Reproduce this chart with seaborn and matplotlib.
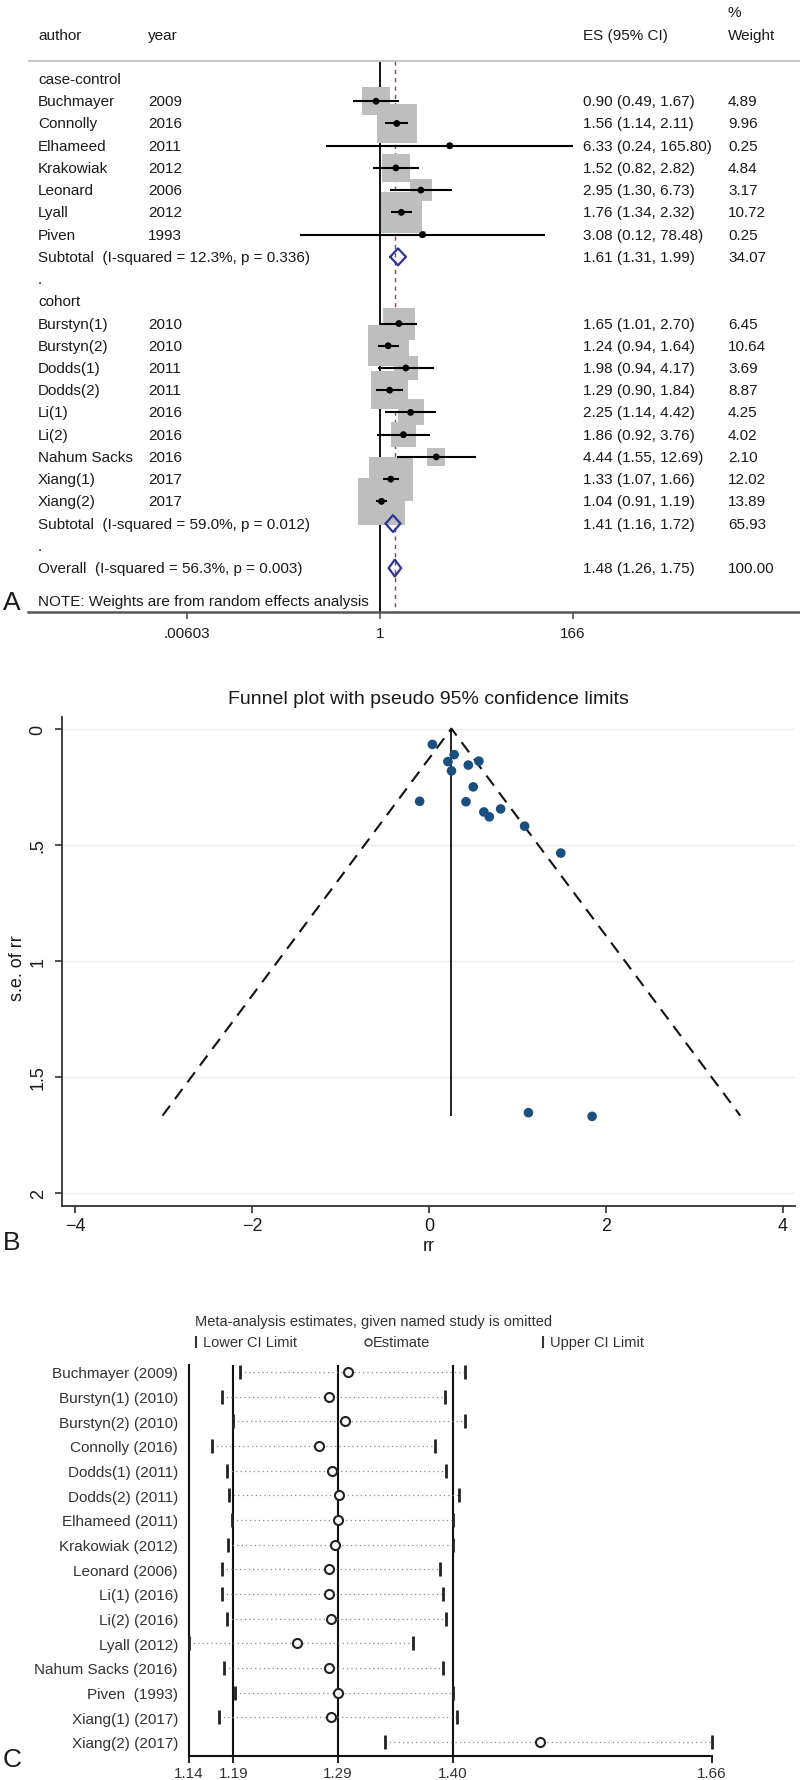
import numpy as np
import pandas as pd
import seaborn as sns
import matplotlib
matplotlib.use("Agg")
import matplotlib.pyplot as plt
import matplotlib.transforms as mtransforms
from matplotlib.ticker import NullLocator

sns.set_style("white")
plt.rcParams['font.family'] = ['Liberation Sans', 'DejaVu Sans']

# ---- panel A: forest plot data ----
authors = ['Buchmayer', 'Connolly', 'Elhameed', 'Krakowiak', 'Leonard', 'Lyall', 'Piven',
           'Burstyn(1)', 'Burstyn(2)', 'Dodds(1)', 'Dodds(2)', 'Li(1)', 'Li(2)',
           'Nahum Sacks', 'Xiang(1)', 'Xiang(2)']
years = [2009, 2016, 2011, 2012, 2006, 2012, 1993,
         2010, 2010, 2011, 2011, 2016, 2016, 2016, 2017, 2017]
design = ['case-control'] * 7 + ['cohort'] * 9
es = [0.90, 1.56, 6.33, 1.52, 2.95, 1.76, 3.08,
      1.65, 1.24, 1.98, 1.29, 2.25, 1.86, 4.44, 1.33, 1.04]
ci_lo = [0.49, 1.14, 0.24, 0.82, 1.30, 1.34, 0.12,
         1.01, 0.94, 0.94, 0.90, 1.14, 0.92, 1.55, 1.07, 0.91]
ci_hi = [1.67, 2.11, 165.80, 2.82, 6.73, 2.32, 78.48,
         2.70, 1.64, 4.17, 1.84, 4.42, 3.76, 12.69, 1.66, 1.19]
weight = [4.89, 9.96, 0.25, 4.84, 3.17, 10.72, 0.25,
          6.45, 10.64, 3.69, 8.87, 4.25, 4.02, 2.10, 12.02, 13.89]

groups = ['case-control', 'cohort']
sub_es = [1.61, 1.41]
sub_lo = [1.31, 1.16]
sub_hi = [1.99, 1.72]
sub_wt = [34.07, 65.93]
sub_i2 = ['12.3%', '59.0%']
sub_p = ['0.336', '0.012']
overall = (1.48, 1.26, 1.75, 100.00, '56.3%', '0.003')

# ---- panel B: funnel plot data (log rr, s.e.) ----
log_rr = [-0.105, 0.445, 1.845, 0.419, 1.082, 0.565, 1.125,
          0.501, 0.215, 0.683, 0.255, 0.811, 0.621, 1.491, 0.285, 0.039]
se_rr = [0.313, 0.157, 1.670, 0.315, 0.420, 0.140, 1.654,
         0.251, 0.142, 0.380, 0.182, 0.346, 0.359, 0.536, 0.112, 0.068]
fixed_logrr = 0.254
max_se = 1.667

# ---- panel C: influence analysis ----
omit_labels = ['Buchmayer (2009)', 'Burstyn(1) (2010)', 'Burstyn(2) (2010)', 'Connolly (2016)',
               'Dodds(1) (2011)', 'Dodds(2) (2011)', 'Elhameed (2011)', 'Krakowiak (2012)',
               'Leonard (2006)', 'Li(1) (2016)', 'Li(2) (2016)', 'Lyall (2012)',
               'Nahum Sacks (2016)', 'Piven  (1993)', 'Xiang(1) (2017)', 'Xiang(2) (2017)']
omit_lo = [1.191, 1.173, 1.184, 1.163, 1.178, 1.180, 1.183, 1.179,
           1.173, 1.173, 1.178, 1.140, 1.175, 1.186, 1.170, 1.335]
omit_est = [1.298, 1.279, 1.295, 1.269, 1.282, 1.289, 1.288, 1.285,
            1.279, 1.279, 1.281, 1.247, 1.279, 1.288, 1.281, 1.489]
omit_hi = [1.414, 1.395, 1.414, 1.385, 1.396, 1.408, 1.402, 1.402,
           1.390, 1.393, 1.396, 1.363, 1.393, 1.402, 1.406, 1.660]
ref_lines = [1.184, 1.288, 1.4025]
c_ticks = [1.14, 1.184, 1.288, 1.4025, 1.66]
c_ticklabels = ['1.14', '1.19', '1.29', '1.40', '1.66']

W, H = 800, 1781
fig = plt.figure(figsize=(W / 100, H / 100), dpi=100)
fig.patch.set_facecolor('white')


def rect(l, t, r, b):
    return [l / W, 1 - b / H, (r - l) / W, (b - t) / H]


def ftext(x, y, s, **kw):
    fig.text(x / W, 1 - y / H, s, **kw)


txtc = '#1a1a1a'

# =================== A ===================
axA = fig.add_axes(rect(28, 0, 800, 613))
axA.set_xscale('log')
tA = mtransforms.blended_transform_factory(fig.transFigure, axA.transData)


def atext(px, row, s, **kw):
    axA.text(px / W, row, s, transform=tA, va='center', ha='left',
             fontsize=11, color=txtc, **kw)


df = pd.DataFrame({'author': authors, 'year': years, 'design': design, 'es': es,
                   'lo': ci_lo, 'hi': ci_hi, 'w': weight})
row = 0
df['row'] = 0.0
sum_rows = []
for g in groups:
    atext(38, row, g)
    row += 1
    for i in df.index[df['design'] == g]:
        df.loc[i, 'row'] = row
        r = df.loc[i]
        atext(38, row, r['author'])
        atext(148, row, str(r['year']))
        atext(583, row, f"{r['es']:.2f} ({r['lo']:.2f}, {r['hi']:.2f})")
        atext(728, row, f"{r['w']:.2f}")
        row += 1
    sum_rows.append(row)
    row += 2
for k, g in enumerate(groups):
    r = sum_rows[k]
    atext(38, r, f"Subtotal  (I-squared = {sub_i2[k]}, p = {sub_p[k]})")
    atext(583, r, f"{sub_es[k]:.2f} ({sub_lo[k]:.2f}, {sub_hi[k]:.2f})")
    atext(728, r, f"{sub_wt[k]:.2f}")
    atext(38, r + 1, '.')
ov_row = row
atext(38, ov_row, f"Overall  (I-squared = {overall[4]}, p = {overall[5]})")
atext(583, ov_row, f"{overall[0]:.2f} ({overall[1]:.2f}, {overall[2]:.2f})")
atext(728, ov_row, f"{overall[3]:.2f}")
atext(38, ov_row + 1.5, 'NOTE: Weights are from random effects analysis')

atext(38, -1.98, 'author')
atext(148, -1.98, 'year')
atext(583, -1.98, 'ES (95% CI)')
atext(728, -3.0, '%')
atext(728, -1.98, 'Weight')

axA.axhline(-0.8, color='#c8c8c8', lw=1.5)
axA.vlines(1, -0.8, 23.98, colors='black', lw=1.3, zorder=1.5)
axA.vlines(overall[0], -0.8, 23.98, colors='#a8383a', lw=1.0,
           linestyles=(0, (3, 3)), zorder=1.6)
axA.scatter(df['es'], df['row'], s=82.4 * df['w'], marker='s', color='#bebebe',
            linewidths=0, zorder=2)
axA.hlines(df['row'], df['lo'], df['hi'], colors='black', lw=1.5, zorder=3)
sns.scatterplot(x=df['es'].values, y=df['row'].values, ax=axA, color='black', s=24,
                edgecolor='none', zorder=4, legend=False)
dmd_h = 0.38
for k in range(len(groups)):
    r = sum_rows[k]
    axA.plot([sub_lo[k], sub_es[k], sub_hi[k], sub_es[k], sub_lo[k]],
             [r, r - dmd_h, r, r + dmd_h, r], color='#2b3597', lw=1.6, zorder=5)
axA.plot([overall[1], overall[0], overall[2], overall[0], overall[1]],
         [ov_row, ov_row - dmd_h, ov_row, ov_row + dmd_h, ov_row],
         color='#2b3597', lw=1.6, zorder=5)

axA.set_xlim(10 ** ((28 - 380) / 86.93), 10 ** ((800 - 380) / 86.93))
axA.set_ylim(23.977, -3.599)
axA.set_xticks([0.00603, 1, 166])
axA.set_xticklabels(['.00603', '1', '166'])
axA.xaxis.set_minor_locator(NullLocator())
axA.set_yticks([])
for s in ['top', 'right', 'left']:
    axA.spines[s].set_visible(False)
axA.spines['bottom'].set_color('#555555')
axA.spines['bottom'].set_linewidth(1.8)
axA.tick_params(axis='x', direction='out', length=5, width=1.2, color='#555555',
                labelsize=11, labelcolor=txtc, pad=5, bottom=True)
axA.set_xlabel('')
axA.set_ylabel('')
axA.patch.set_alpha(0)
ftext(12, 603, 'A', fontsize=19, ha='center', va='center', color=txtc)

# =================== B ===================
axB = fig.add_axes(rect(62, 718, 795, 1207))
for yv in [0, 0.5, 1, 1.5, 2]:
    axB.axhline(yv, color='#e5edf2', lw=1.0, zorder=0)
axB.vlines(fixed_logrr, 0, max_se, colors='#111111', lw=1.3, zorder=2)
axB.plot([fixed_logrr - 1.96 * max_se, fixed_logrr, fixed_logrr + 1.96 * max_se],
         [max_se, 0, max_se], color='#111111', lw=1.5, dashes=(6, 4), zorder=2)
sns.scatterplot(x=log_rr, y=se_rr, ax=axB, color='#1b4f7f', s=48, edgecolor='none',
                zorder=3, legend=False)
axB.set_xlim(-4.15, 4.14)
axB.set_ylim(2.056, -0.05)
axB.set_xticks([-4, -2, 0, 2, 4])
axB.set_yticks([0, 0.5, 1, 1.5, 2])
axB.set_yticklabels(['0', '.5', '1', '1.5', '2'], rotation=90, va='center')
for s in ['top', 'right']:
    axB.spines[s].set_visible(False)
for s in ['left', 'bottom']:
    axB.spines[s].set_color('#333333')
    axB.spines[s].set_linewidth(1.3)
axB.tick_params(axis='both', direction='out', length=5, width=1.2, color='#333333',
                labelsize=13, labelcolor=txtc)
axB.tick_params(axis='y', pad=6, left=True)
axB.tick_params(axis='x', pad=3, bottom=True)
axB.set_xlabel('')
axB.set_ylabel('')
ftext(428, 700, 'Funnel plot with pseudo 95% confidence limits', fontsize=14,
      ha='center', va='center', color=txtc)
ftext(17, 968, 's.e. of rr', fontsize=13, rotation=90, ha='center', va='center', color=txtc)
ftext(429, 1247, 'rr', fontsize=13, ha='center', va='center', color=txtc)
ftext(12, 1243, 'B', fontsize=19, ha='center', va='center', color=txtc)

# =================== C ===================
axC = fig.add_axes(rect(189, 1366, 712, 1757))
rows_c = np.arange(len(omit_labels))
for xv in ref_lines:
    axC.axvline(xv, color='#111111', lw=1.5, zorder=1)
axC.hlines(rows_c, omit_lo, omit_hi, colors='#8a8a8a', lw=0.9,
           linestyles=(0, (1, 2.5)), zorder=2)
axC.plot(omit_lo, rows_c, ls='none', marker='|', ms=10, mew=2, color='#222222',
         zorder=3, clip_on=False)
axC.plot(omit_hi, rows_c, ls='none', marker='|', ms=10, mew=2, color='#222222',
         zorder=3, clip_on=False)
axC.plot(omit_est, rows_c, ls='none', marker='o', ms=6.5, mew=1.5, mfc='white',
         mec='#222222', zorder=4, clip_on=False)
axC.set_xlim(1.14, 1.66)
axC.set_ylim(15.57, -0.28)
axC.set_xticks(c_ticks)
axC.set_xticklabels(c_ticklabels)
axC.set_yticks(rows_c)
axC.set_yticklabels(omit_labels)
for s in ['top', 'right']:
    axC.spines[s].set_visible(False)
for s in ['left', 'bottom']:
    axC.spines[s].set_color('#111111')
    axC.spines[s].set_linewidth(1.5)
axC.tick_params(axis='x', direction='out', length=5, width=1.3, color='#111111',
                labelsize=11, labelcolor='#333333', pad=2, bottom=True)
axC.tick_params(axis='y', length=0, labelsize=11, labelcolor='#333333', pad=8)
ftext(195, 1322, 'Meta-analysis estimates, given named study is omitted', fontsize=10.5,
      ha='left', va='center', color='#333333')
axC.plot([196 / W], [1 - 1343 / H], transform=fig.transFigure, marker='|', ms=8, mew=1.5,
         color='#333333', clip_on=False)
ftext(203, 1343, 'Lower CI Limit', fontsize=10.5, ha='left', va='center', color='#333333')
axC.plot([368 / W], [1 - 1343 / H], transform=fig.transFigure, marker='o', ms=5, mew=1,
         mfc='white', mec='#333333', clip_on=False)
ftext(373, 1343, 'Estimate', fontsize=10.5, ha='left', va='center', color='#333333')
axC.plot([543 / W], [1 - 1343 / H], transform=fig.transFigure, marker='|', ms=8, mew=1.5,
         color='#333333', clip_on=False)
ftext(550, 1343, 'Upper CI Limit', fontsize=10.5, ha='left', va='center', color='#333333')
ftext(12, 1760, 'C', fontsize=19, ha='center', va='center', color=txtc)

fig.savefig('out.png', dpi=100, facecolor='white')
